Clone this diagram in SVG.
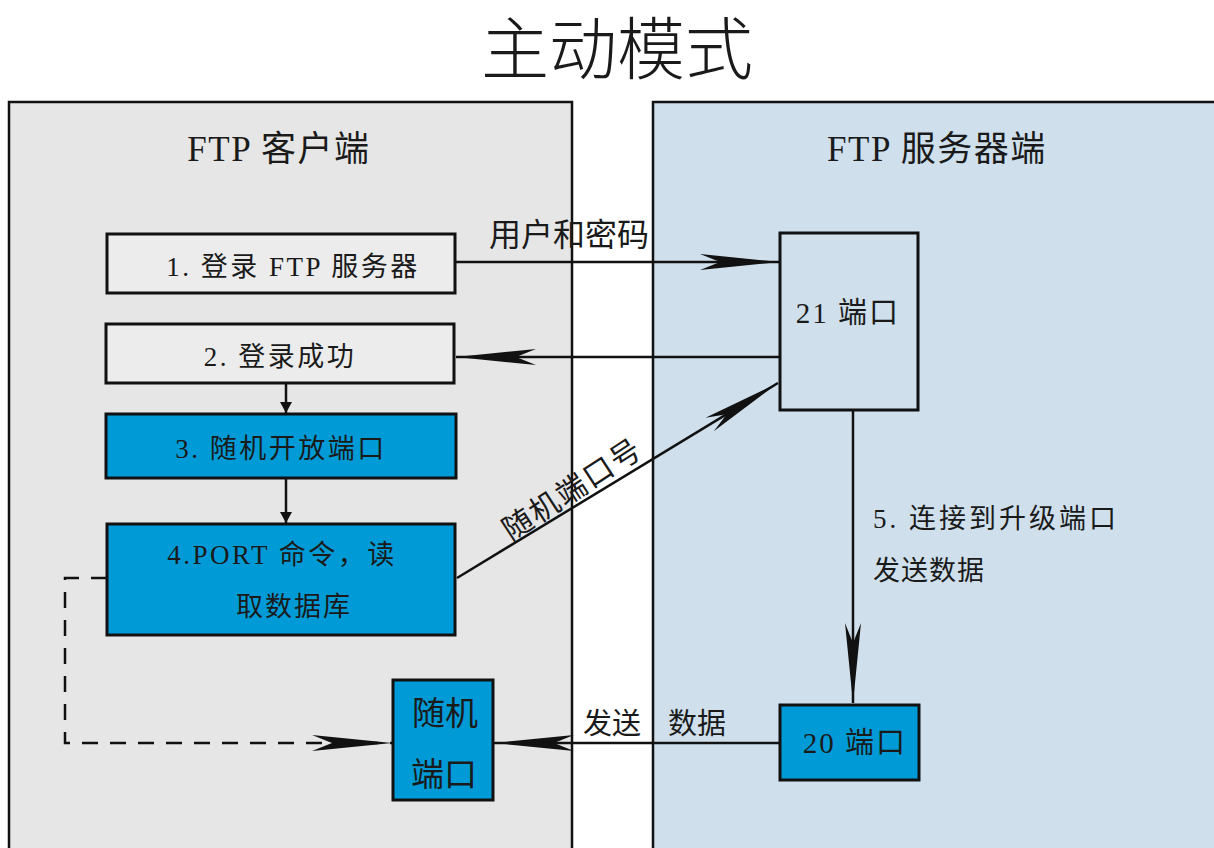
<svg xmlns="http://www.w3.org/2000/svg" width="1214" height="848" viewBox="0 0 1214 848">
<style>
.t{font-family:"Liberation Serif","Noto Sans CJK SC",serif;fill:#1a1a1a;text-anchor:middle}
.s{text-anchor:start}
.panel{stroke:#111;stroke-width:2.5}
.box{stroke:#111;stroke-width:3}
.blue{fill:#009bd6}
.light{fill:#ececec}
.ln{stroke:#111;stroke-width:2.5;fill:none}
</style>
<defs>
<marker id="spear" markerUnits="userSpaceOnUse" markerWidth="90" markerHeight="20" viewBox="-82 -10 84 20" refX="0" refY="0" orient="auto">
<path d="M0,0 L-80,-8 L-60,0 L-80,8 Z" fill="#111"/>
</marker>
<marker id="small" markerUnits="userSpaceOnUse" markerWidth="14" markerHeight="14" viewBox="-12 -7 13 14" refX="0" refY="0" orient="auto">
<path d="M0,0 L-11,-6 L-11,6 Z" fill="#111"/>
</marker>
</defs>
<rect width="1214" height="848" fill="#fff"/>
<text class="t" x="617" y="74" font-size="68" font-weight="300">主动模式</text>
<g id="client">
<rect class="panel" x="9" y="102" width="563" height="760" fill="#e6e6e6"/>
<text class="t" x="279" y="161" font-size="35" letter-spacing="1.5">FTP 客户端</text>
</g>
<g id="server">
<rect class="panel" x="653" y="102" width="570" height="760" fill="#cfe0ec"/>
<text class="t" x="937" y="161" font-size="35" letter-spacing="1.5">FTP 服务器端</text>
</g>
<g id="connectors">
<line class="ln" x1="455" y1="262" x2="780" y2="262" marker-end="url(#spear)"/>
<line class="ln" x1="780" y1="357" x2="456" y2="357" marker-end="url(#spear)"/>
<line class="ln" x1="286" y1="383" x2="286" y2="413" marker-end="url(#small)"/>
<line class="ln" x1="286" y1="478" x2="286" y2="523" marker-end="url(#small)"/>
<line class="ln" x1="457" y1="578" x2="778" y2="383" marker-end="url(#spear)"/>
<line class="ln" x1="853" y1="410" x2="853" y2="703" marker-end="url(#spear)"/>
<line class="ln" x1="780" y1="743" x2="494" y2="743" marker-end="url(#spear)"/>
<path class="ln" d="M107,578 H65 V743 H392" stroke-dasharray="16,12" marker-end="url(#spear)"/>
<text class="t" x="569" y="246" font-size="32">用户和密码</text>
<text class="t" x="0" y="0" font-size="30" letter-spacing="2" transform="translate(578,498) rotate(-33)">随机端口号</text>
<text class="t s" x="873" y="528" font-size="27" letter-spacing="3">5. 连接到升级端口</text>
<text class="t s" x="873" y="580" font-size="27" letter-spacing="1">发送数据</text>
<text class="t s" x="583" y="734" font-size="29">发送</text>
<text class="t s" x="668" y="734" font-size="29">数据</text>
</g>
<g id="box1">
<rect class="box light" x="107" y="234" width="348" height="59"/>
<text class="t" x="293" y="276" font-size="27" letter-spacing="2.5">1. 登录 FTP 服务器</text>
</g>
<g id="box2">
<rect class="box light" x="106" y="324" width="348" height="59"/>
<text class="t" x="280" y="366" font-size="27" letter-spacing="2.5">2. 登录成功</text>
</g>
<g id="box3">
<rect class="box blue" x="106" y="414" width="350" height="64"/>
<text class="t" x="281" y="458" font-size="27" letter-spacing="2.5">3. 随机开放端口</text>
</g>
<g id="box4">
<rect class="box blue" x="107" y="524" width="348" height="111"/>
<text class="t" x="282" y="564" font-size="27" letter-spacing="2.5">4.PORT 命令，读</text>
<text class="t" x="294" y="616" font-size="27" letter-spacing="2">取数据库</text>
</g>
<g id="randport">
<rect class="box blue" x="393" y="680" width="100" height="120"/>
<text class="t" x="445" y="725" font-size="33">随机</text>
<text class="t" x="444" y="786" font-size="33">端口</text>
</g>
<g id="port21">
<rect class="box" x="780" y="233" width="138" height="177" fill="#cfe0ec"/>
<text class="t" x="848" y="323" font-size="29" letter-spacing="2">21 端口</text>
</g>
<g id="port20">
<rect class="box blue" x="780" y="705" width="139" height="75"/>
<text class="t" x="855" y="753" font-size="29" letter-spacing="2">20 端口</text>
</g>
</svg>
